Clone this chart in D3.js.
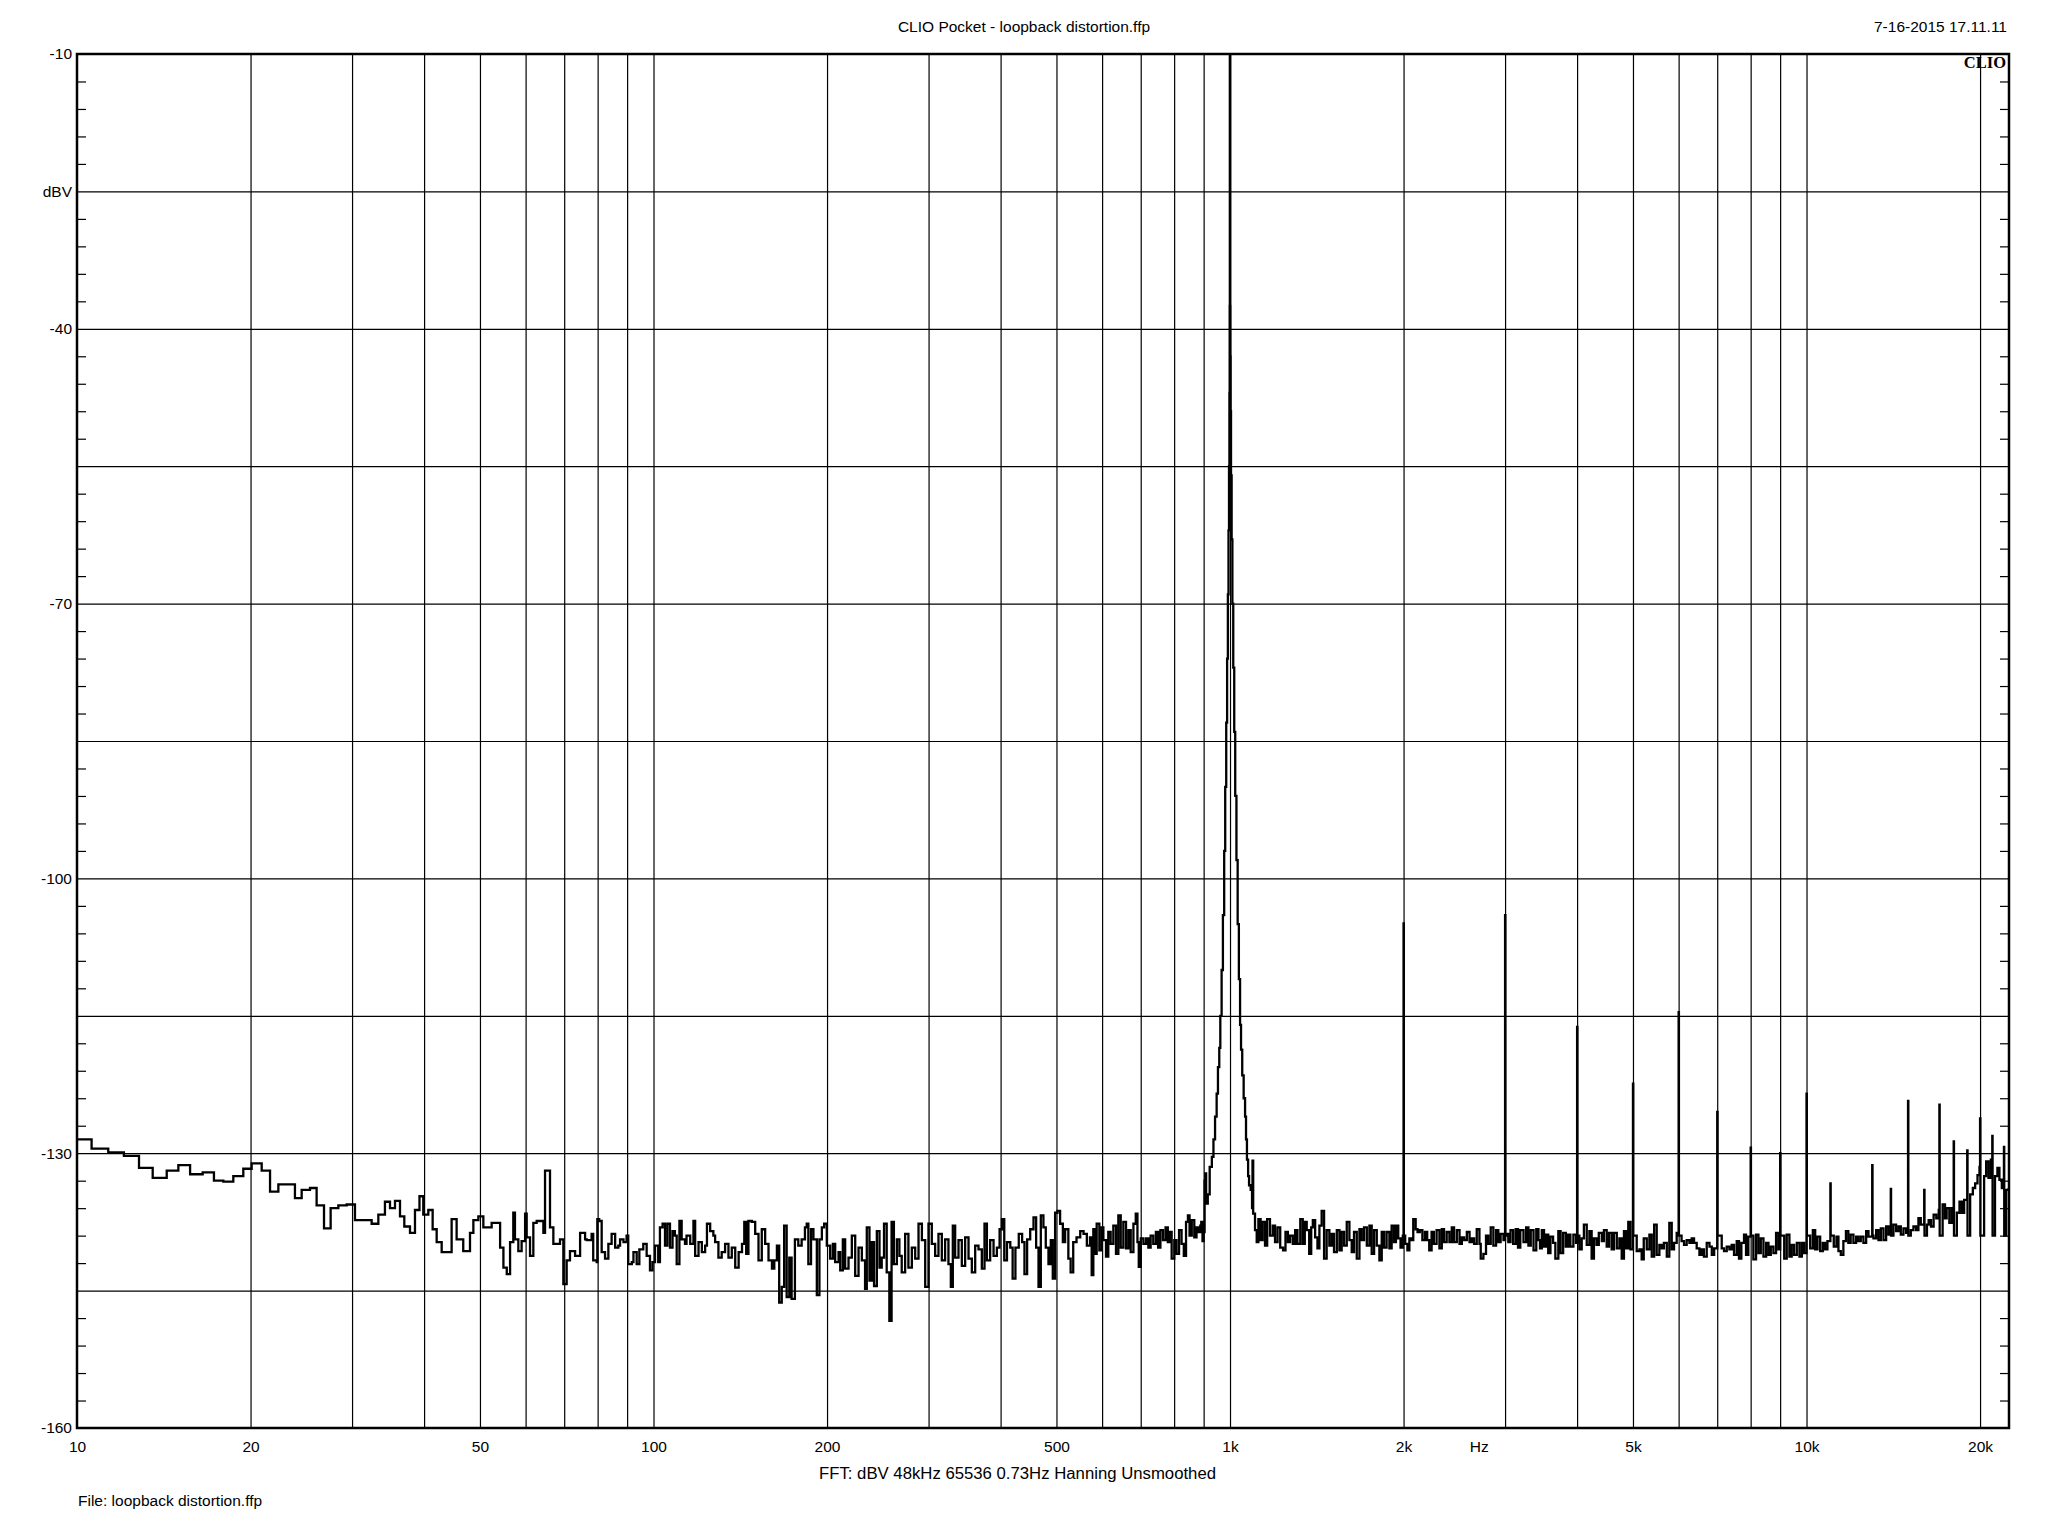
<!DOCTYPE html>
<html><head><meta charset="utf-8">
<script src="https://cdn.jsdelivr.net/npm/d3@7"></script>
<style>body{margin:0;background:#fff}svg{display:block}</style>
</head><body>
<svg id="chart" width="2048" height="1536"></svg>
<script>
// ---------- DATA ----------
const titleText = "CLIO Pocket - loopback distortion.ffp";
const dateText = "7-16-2015 17.11.11";
const fileText = "File: loopback distortion.ffp";
const fftText = "FFT:  dBV  48kHz  65536  0.73Hz  Hanning  Unsmoothed";

const xGridFreqs = [20,30,40,50,60,70,80,90,100,200,300,400,500,600,700,800,900,1000,2000,3000,4000,5000,6000,7000,8000,9000,10000,20000];
const xLabelFreqs = [10,20,50,100,200,500,1000,2000,2700,5000,10000,20000];
const xLabelTexts = ["10","20","50","100","200","500","1k","2k","Hz","5k","10k","20k"];
const yGridValues = [-25,-40,-55,-70,-85,-100,-115,-130,-145];
const yLabelValues = [-10,-25,-40,-70,-100,-130,-160];
const yLabelTexts = ["-10","dBV","-40","-70","-100","-130","-160"];
const yMinorTicks = [-13,-16,-19,-22,-28,-31,-34,-37,-43,-46,-49,-52,-58,-61,-64,-67,-73,-76,-79,-82,-88,-91,-94,-97,-103,-106,-109,-112,-118,-121,-124,-127,-133,-136,-139,-142,-148,-151,-154,-157];

// low-frequency bins (Hz) and level (dBV), drawn as steps
const lowFreq = [10,10.6,11.33,12.06,12.81,13.53,14.31,14.99,15.71,16.52,17.28,17.94,18.67,19.43,20.09,20.91,21.62,22.35,23.88,24.53,25.36,26.04,26.82,27.54,28.4,29.36,30.35,32.44,33.32,34.21,34.91,35.61,36.33,36.96,37.81,38.57,39.27,39.87,40.68,41.39,42.06,42.91,44.65,45.55,46.77,48.05,48.7,49.68,50.68,52.39,54.19,54.91,55.65,56.39,57.12,57.5,58.28,59.05,59.88,60.26,61.07,61.88,62.71,64.41,64.84,66.14,67.03,68.84,69.76,70.69,71.63,73.11,74.59,76.09];
const lowDb = [-128.5,-129.5,-129.9,-130.3,-131.6,-132.7,-131.9,-131.3,-132.3,-132.1,-133.0,-133.1,-132.5,-131.7,-131.1,-131.9,-134.2,-133.4,-134.9,-134.0,-133.8,-135.7,-138.2,-136.0,-135.7,-135.6,-137.3,-137.7,-136.7,-135.3,-136.0,-135.2,-136.9,-138.0,-138.7,-136.2,-134.7,-136.7,-136.2,-138.3,-139.7,-140.8,-137.2,-139.4,-140.7,-138.7,-137.3,-136.9,-138.1,-137.6,-140.3,-142.5,-143.2,-139.7,-136.5,-139.4,-140.7,-139.6,-136.6,-139.2,-141.2,-137.6,-137.4,-138.7,-131.9,-138.1,-139.9,-139.4,-144.3,-141.7,-140.7,-141.2,-138.7,-139.4];

// noise floor 76 Hz - 570 Hz  [Hz, dBV]
const noiseMid = [[76.6,-139.5],[78.1,-138.8],[78.6,-141.7],[79.7,-141.9],[79.9,-137.2],[80.5,-137.4],[81.3,-140.8],[82.4,-141.5],[83.5,-139.9],[84.6,-138.8],[85.8,-140.3],[86.9,-140.1],[87.5,-139.4],[88.7,-139.7],[89.8,-139.0],[90.4,-142.1],[91.7,-141.9],[92.3,-140.8],[93.5,-142.1],[94.5,-140.5],[96.0,-139.9],[97.3,-141.2],[98.6,-142.8],[99.6,-141.9],[100.6,-140.1],[101.9,-141.9],[102.6,-138.1],[103.7,-137.7],[104.7,-140.1],[105.7,-137.7],[106.8,-140.3],[107.9,-138.5],[108.9,-139.0],[109.7,-142.1],[110.9,-137.4],[111.9,-139.4],[113.4,-139.9],[114.1,-139.0],[115.8,-139.9],[117.3,-137.4],[118.1,-141.2],[119.7,-139.7],[121.3,-140.8],[122.9,-140.1],[123.8,-137.7],[125.4,-138.5],[127.0,-139.0],[127.9,-139.7],[129.6,-141.4],[131.3,-140.8],[133.1,-139.9],[134.9,-141.4],[136.7,-140.3],[138.6,-142.5],[140.5,-140.8],[142.4,-139.9],[143.7,-137.5],[144.8,-141.0],[146.1,-137.4],[148.1,-137.5],[150.1,-138.8],[152.1,-141.7],[154.1,-138.3],[156.2,-139.9],[158.3,-141.7],[160.5,-142.6],[162.0,-141.7],[163.7,-140.1],[165.2,-146.3],[166.9,-144.6],[168.5,-137.9],[170.2,-145.7],[172.0,-141.4],[173.6,-145.9],[175.9,-139.4],[178.3,-140.1],[180.7,-139.4],[183.1,-138.1],[184.4,-137.7],[185.6,-142.1],[187.6,-138.3],[189.4,-139.4],[192.0,-145.5],[194.0,-139.4],[195.9,-138.1],[197.7,-137.7],[199.8,-140.1],[202.5,-141.5],[204.7,-139.9],[206.6,-141.9],[209.4,-140.8],[210.8,-142.8],[213.0,-139.4],[215.0,-142.6],[217.9,-141.4],[220.8,-139.0],[223.8,-143.4],[226.8,-140.3],[229.8,-141.7],[232.8,-144.8],[234.4,-138.1],[236.9,-143.9],[239.1,-139.7],[241.3,-144.5],[244.0,-138.5],[246.6,-142.5],[248.8,-141.4],[251.1,-137.7],[253.8,-143.0],[256.5,-148.3],[258.8,-137.5],[261.2,-142.1],[264.3,-139.4],[267.0,-141.2],[269.5,-143.0],[273.2,-138.8],[276.8,-142.5],[280.6,-140.3],[284.4,-141.5],[288.2,-137.7],[292.1,-139.5],[296.0,-144.6],[299.9,-137.7],[303.9,-139.9],[308.0,-141.2],[312.1,-138.8],[316.3,-141.7],[320.5,-139.4],[324.8,-142.1],[327.9,-144.6],[330.5,-137.9],[333.6,-141.4],[338.1,-139.5],[342.6,-142.3],[347.2,-139.2],[351.9,-141.5],[356.6,-143.0],[361.4,-140.1],[366.2,-140.5],[371.1,-142.6],[375.1,-137.7],[378.7,-141.7],[383.7,-139.5],[388.9,-141.2],[394.1,-140.3],[398.4,-138.3],[402.2,-137.2],[405.9,-141.7],[410.3,-139.7],[415.8,-140.3],[419.7,-143.7],[424.4,-140.3],[430.1,-138.8],[435.9,-139.7],[440.0,-143.2],[444.7,-139.4],[450.2,-138.3],[456.2,-137.0],[461.0,-140.3],[465.4,-144.6],[469.7,-136.8],[474.6,-138.1],[479.1,-140.3],[484.3,-142.1],[488.8,-139.5],[492.7,-143.7],[497.3,-136.5],[502.0,-136.3],[507.3,-137.7],[512.9,-139.7],[517.6,-138.3],[524.3,-141.5],[529.1,-143.0],[534.6,-139.7],[541.7,-139.2],[549.8,-138.5],[557.1,-138.8],[564.5,-140.1]];

// noise floor 570 Hz - 890 Hz
const noiseBelowTone = [[571.6,-139.2],[575.5,-143.3],[579.3,-138.3],[583.2,-141.0],[587.1,-137.7],[593.4,-140.6],[599.0,-138.1],[603.0,-139.5],[609.4,-141.3],[615.0,-138.6],[620.8,-139.9],[627.5,-137.9],[634.2,-141.0],[640.2,-136.8],[646.3,-140.3],[653.1,-137.5],[660.1,-140.4],[666.4,-138.4],[672.6,-140.8],[679.9,-137.7],[686.3,-136.6],[690.9,-139.7],[694.6,-142.4],[700.2,-139.3],[707.6,-139.9],[715.1,-139.3],[721.7,-140.3],[728.3,-139.0],[736.0,-139.9],[743.7,-138.6],[750.4,-140.3],[757.3,-138.4],[765.1,-139.5],[773.0,-138.1],[780.0,-139.7],[785.0,-138.6],[792.1,-141.5],[800.4,-139.5],[807.5,-141.0],[815.8,-138.4],[824.1,-139.9],[831.5,-141.2],[838.9,-137.5],[845.3,-136.8],[850.7,-139.0],[858.3,-137.3],[867.0,-139.2],[874.7,-138.1],[882.5,-138.6],[888.1,-137.9]];

// 1 kHz test tone and its skirt
const toneSkirt = [[891.5,-137.5],[896,-139.6],[900,-138.6],[903.5,-133],[906,-132.2],[909,-135.5],[915,-134.5],[922,-131.5],[930,-130.4],[936,-128.5],[942,-126],[948,-123.5],[953,-120.6],[958,-118.5],[962,-115],[967,-110],[972,-104],[977,-97],[981,-90],[985,-83],[988.5,-76],[991.5,-69],[994,-62],[996,-55],[997.6,-47],[998.6,-37.5],[999.3,-10.3],[1000,-10],[1000.9,-37.5],[1001.6,-43],[1002.5,-49],[1004,-56],[1006.5,-63],[1009.5,-70],[1013,-77],[1017,-84],[1021,-91],[1026,-98],[1031,-105],[1036,-111],[1041,-116],[1045,-118.7],[1050,-121.5],[1056,-124],[1062,-126],[1066,-128.5],[1070,-130.7],[1075,-132.5],[1079,-133.5],[1086,-134],[1092,-136],[1094,-130.8],[1097,-136.6]];

// noise floor 1.1 kHz - 3.4 kHz
const noiseAboveTone = [[1105,-138.4],[1112.5,-139.7],[1120,-137.2],[1130,-139.5],[1139,-137.5],[1150,-140.1],[1160,-137.2],[1173,-139.0],[1186,-137.9],[1197,-139.7],[1209,-138.1],[1222,-140.3],[1236,-140.6],[1248,-138.6],[1260,-139.7],[1271,-139.0],[1285,-139.9],[1297,-138.4],[1309,-139.9],[1324,-137.2],[1337,-139.9],[1348,-137.5],[1358.5,-138.4],[1372,-141.0],[1383,-138.1],[1392,-137.3],[1405,-139.2],[1418,-140.4],[1429,-137.9],[1442,-136.3],[1456,-141.5],[1471,-138.4],[1487,-140.1],[1501,-138.8],[1515,-140.8],[1532,-138.4],[1548,-140.6],[1562,-138.6],[1577,-140.1],[1594,-137.5],[1611,-139.5],[1626,-140.8],[1641,-138.6],[1659,-141.5],[1677,-138.3],[1692,-139.5],[1708,-138.1],[1727,-140.1],[1745,-137.9],[1761,-141.0],[1778,-138.4],[1797,-140.1],[1816,-141.7],[1833,-138.6],[1850,-140.3],[1869,-138.6],[1890,-140.4],[1907,-137.9],[1925,-139.7],[1940,-137.9],[1958,-139.3],[1976,-140.3],[1994,-139.0],[2013,-139.9],[2031,-140.6],[2047,-139.3],[2066,-139.5],[2079,-137.2],[2099,-138.3],[2115,-138.6],[2134,-138.4],[2156,-139.5],[2178,-138.6],[2198,-139.5],[2216,-140.6],[2237,-138.6],[2257,-139.9],[2282,-138.4],[2308,-140.4],[2330,-138.3],[2351,-139.7],[2376,-138.6],[2402,-139.7],[2425,-138.1],[2447,-139.7],[2474,-138.4],[2501,-139.9],[2524,-139.2],[2548,-139.5],[2575,-138.6],[2603,-139.7],[2627,-139.3],[2651,-139.9],[2679,-138.3],[2708,-139.9],[2722,-141.5],[2751,-141.0],[2780,-139.0],[2806,-139.9],[2833,-138.1],[2863,-140.1],[2894,-138.4],[2920,-139.7],[2947,-138.8],[2981,-139.5],[3013,-138.8],[3039,-139.7],[3066,-138.4],[3098,-139.9],[3130,-138.3],[3159,-140.3],[3188,-138.4],[3229,-139.7],[3263,-138.1],[3293,-140.1],[3324,-138.4],[3361,-140.6],[3398,-138.3],[3428,-139.5]];

// noise floor 3.4 kHz - 22.4 kHz
const noiseHigh = [[3449,-140.4],[3474,-138.4],[3505,-140.2],[3532,-138.9],[3564,-140.9],[3596,-139.1],[3634,-139.8],[3667,-141.5],[3711,-138.5],[3745,-140.9],[3783,-138.7],[3823,-140.2],[3858,-138.9],[3894,-140.2],[3941,-138.9],[3983,-139.8],[4036,-140.5],[4074,-139.3],[4110,-137.8],[4157,-140.0],[4201,-138.5],[4239,-141.5],[4278,-139.3],[4322,-140.0],[4362,-138.7],[4415,-139.6],[4452,-138.4],[4502,-140.2],[4544,-138.7],[4592,-140.5],[4634,-138.7],[4687,-140.4],[4736,-139.3],[4780,-141.5],[4823,-138.5],[4862,-140.4],[4907,-137.5],[4950,-140.5],[5075,-140.7],[5131,-140.5],[5177,-141.6],[5220,-139.3],[5283,-140.5],[5339,-138.9],[5389,-141.3],[5441,-137.8],[5497,-141.1],[5556,-140.0],[5608,-140.4],[5657,-139.8],[5723,-141.3],[5781,-137.6],[5837,-140.5],[5891,-139.8],[5954,-138.7],[6071,-139.6],[6131,-140.0],[6196,-139.5],[6264,-139.8],[6322,-139.3],[6381,-139.8],[6449,-140.4],[6520,-141.1],[6578,-140.5],[6638,-141.3],[6713,-139.8],[6787,-140.2],[6850,-141.1],[6915,-140.4],[7127,-140.4],[7193,-140.7],[7271,-140.2],[7348,-140.5],[7417,-140.0],[7486,-141.1],[7567,-139.6],[7636,-141.5],[7708,-139.8],[7791,-138.9],[7854,-141.1],[7927,-139.1],[8087,-141.6],[8174,-138.9],[8253,-140.9],[8331,-139.3],[8420,-141.3],[8510,-139.8],[8590,-141.1],[8670,-140.2],[8761,-140.9],[8855,-138.7],[8939,-140.5],[9148,-141.5],[9240,-138.9],[9339,-141.3],[9425,-140.0],[9515,-141.1],[9619,-139.8],[9721,-141.3],[9814,-139.8],[9904,-140.9],[10148,-140.4],[10256,-138.4],[10352,-140.5],[10448,-139.1],[10560,-140.7],[10671,-139.8],[10770,-140.5],[10871,-139.6],[11150,-140.2],[11270,-139.1],[11360,-140.7],[11467,-141.1],[11586,-139.6],[11705,-138.5],[11817,-139.8],[11928,-138.9],[12060,-139.8],[12190,-139.1],[12304,-139.6],[12420,-139.1],[12552,-139.8],[12689,-138.5],[12808,-139.1],[13065,-139.3],[13205,-138.4],[13329,-139.5],[13455,-138.2],[13598,-139.5],[13743,-138.0],[13873,-138.9],[14150,-137.8],[14301,-138.5],[14436,-138.0],[14572,-138.9],[14728,-138.2],[14885,-138.7],[15165,-138.4],[15326,-138.0],[15490,-138.4],[15635,-137.1],[15782,-137.8],[16178,-137.8],[16286,-137.3],[16439,-138.0],[16614,-136.7],[16792,-137.1],[16957,-136.2],[17222,-135.6],[17385,-137.1],[17500,-136.0],[17690,-137.6],[17858,-136.0],[18227,-136.5],[18422,-135.3],[18594,-136.5],[18767,-135.1],[19224,-134.5],[19430,-133.8],[19612,-133.3],[19796,-132.4],[19953,-131.5],[20325,-132.5],[20490,-130.9],[20685,-132.7],[20880,-130.7],[21230,-132.5],[21435,-131.6],[21607,-132.9],[21816,-133.8],[22200,-134.0],[22417,-133.8]];

// harmonic distortion products
const harmonicFreq = [2000,3000,4000,5000,6000,7000,8000,9000,10000,11000,13000,14000,15000,16000,17000,18000,19000,20000,21000,22000];
const harmonicDb = [-104.9,-104.0,-116.2,-122.4,-114.6,-125.5,-129.4,-130.0,-123.5,-133.3,-131.3,-133.9,-124.3,-134.0,-124.7,-128.7,-129.7,-126.2,-128.1,-129.3];

// ---------- BUILD SERIES ----------
let pts = lowFreq.map((f,i)=>[f,lowDb[i]])
  .concat(noiseMid, noiseBelowTone, toneSkirt, noiseAboveTone, noiseHigh);
pts.sort((a,b)=>a[0]-b[0]);
harmonicFreq.forEach((hf,i)=>{
  // level of the noise bin just below the harmonic
  let prev = pts.filter(p=>p[0]<hf).pop();
  pts.push([hf, harmonicDb[i]]);
  pts.push([hf*1.0012, prev[1]]);
});
pts.sort((a,b)=>a[0]-b[0]);

// ---------- LAYOUT ----------
const L=77, R=2009, T=54, B=1428;
const svg = d3.select("#chart");
const x = d3.scaleLog().domain([10,22450]).range([L,R]);
const y = d3.scaleLinear().domain([-160,-10]).range([B,T]);
const FONT = "'Liberation Sans', Arial, sans-serif";

svg.append("rect").attr("width",2048).attr("height",1536).attr("fill","#fff");

// vertical grid
const gx = svg.append("g").attr("transform",`translate(0,${B})`)
  .call(d3.axisBottom(x).tickValues(xGridFreqs).tickSize(-(B-T)).tickFormat(""));
gx.select(".domain").remove();
gx.selectAll("line").attr("stroke","#000").attr("stroke-width",1.2);

// horizontal grid
const gy = svg.append("g").attr("transform",`translate(${L},0)`)
  .call(d3.axisLeft(y).tickValues(yGridValues).tickSize(-(R-L)).tickFormat(""));
gy.select(".domain").remove();
gy.selectAll("line").attr("stroke","#000").attr("stroke-width",1.2);

// minor ticks left & right (inside)
const ml = svg.append("g").attr("transform",`translate(${L},0)`)
  .call(d3.axisLeft(y).tickValues(yMinorTicks).tickSize(-9).tickFormat(""));
ml.select(".domain").remove();
ml.selectAll("line").attr("stroke","#000").attr("stroke-width",1.2);
const mr = svg.append("g").attr("transform",`translate(${R},0)`)
  .call(d3.axisRight(y).tickValues(yMinorTicks).tickSize(-9).tickFormat(""));
mr.select(".domain").remove();
mr.selectAll("line").attr("stroke","#000").attr("stroke-width",1.2);

// clip
svg.append("clipPath").attr("id","plotclip").append("rect")
  .attr("x",L).attr("y",T-1).attr("width",R-L).attr("height",B-T+1);

// trace
const line = d3.line().x(d=>x(d[0])).y(d=>y(d[1])).curve(d3.curveStepAfter);
svg.append("path").datum(pts).attr("d",line)
  .attr("fill","none").attr("stroke","#000").attr("stroke-width",2.3)
  .attr("clip-path","url(#plotclip)");

// frame
svg.append("rect").attr("x",L).attr("y",T).attr("width",R-L).attr("height",B-T)
  .attr("fill","none").attr("stroke","#000").attr("stroke-width",2.5);

// x labels
const xl = svg.append("g").attr("transform",`translate(0,${B})`)
  .call(d3.axisBottom(x).tickValues(xLabelFreqs).tickSize(0).tickPadding(13)
    .tickFormat((d,i)=>xLabelTexts[i]));
xl.select(".domain").remove();
xl.selectAll("text").attr("font-family",FONT).attr("font-size","15.5px").attr("fill","#000");

// y labels
const yl = svg.append("g").attr("transform",`translate(${L},0)`)
  .call(d3.axisLeft(y).tickValues(yLabelValues).tickSize(0).tickPadding(5)
    .tickFormat((d,i)=>yLabelTexts[i]));
yl.select(".domain").remove();
yl.selectAll("text").attr("font-family",FONT).attr("font-size","15.5px").attr("fill","#000");

// texts
svg.append("text").attr("x",1024).attr("y",31.5).attr("text-anchor","middle")
  .attr("font-family",FONT).attr("font-size","15.5px").text(titleText);
svg.append("text").attr("x",2007).attr("y",32).attr("text-anchor","end")
  .attr("font-family",FONT).attr("font-size","15.5px").text(dateText);
svg.append("text").attr("x",2006).attr("y",68).attr("text-anchor","end")
  .attr("font-family","'Liberation Serif','Times New Roman',serif").attr("font-weight","bold")
  .attr("font-size","16.5px").text("CLIO");
svg.append("text").attr("x",1017.5).attr("y",1479).attr("text-anchor","middle")
  .attr("font-family","'Liberation Sans Narrow','Arial Narrow',"+FONT).attr("font-size","16px")
  .attr("textLength",397).attr("lengthAdjust","spacingAndGlyphs").text(fftText);
svg.append("text").attr("x",78).attr("y",1505.5)
  .attr("font-family",FONT).attr("font-size","15.5px").text(fileText);
</script>
</body></html>
